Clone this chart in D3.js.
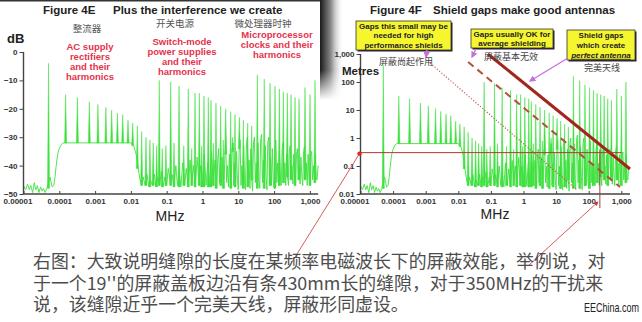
<!DOCTYPE html>
<meta charset="utf-8">
<script src="https://d3js.org/d3.v7.min.js"></script>
<style>
  body { margin: 0; background: #fff; }
  text { font-family: "Liberation Sans", Arial, sans-serif; }
  .cn { font-family: "Noto Sans CJK SC", sans-serif; }
</style>
<div id="chart"></div>
<script>

// axis ticks
var freqTicks = [0.00001, 0.0001, 0.001, 0.01, 0.1, 1, 10, 100, 1000];
var freqLabels = ["0.00001", "0.0001", "0.001", "0.01", "0.1", "1", "10", "100", "1,000"];
var dbTicks = [0, -10, -20, -30, -40, -50];
var metreTicks = [1000, 100, 10, 1, 0.1, 0.01];
var metreLabels = ["1,000", "100", "10", "1", "0.1", "0.01"];

// measured spectrum [MHz, dB]
var trace = [
  [1e-5,-47],[1.15e-5,-48.5],[1.3e-5,-46.5],[1.45e-5,-48.5],[1.6e-5,-47],[1.8e-5,-49.5],
  [2e-5,-46],[2.2e-5,-48.5],[2.45e-5,-47],[2.7e-5,-49.5],[3e-5,-47.5],[3.3e-5,-49],
  [3.6e-5,-48],[4e-5,-49.5],[4.5e-5,-48],[5.5e-5,-44],[6.3e-5,-47.5],[7e-5,-47],
  [7.6e-5,-44],[8.2e-5,-40],[9e-5,-36],[1e-4,-34],[1.15e-4,-32.5],[1.3e-4,-32],
  [0.01,-32],[0.012,-33],[0.014,-36],[0.016,-41],[0.018,-45],[0.020,-47],
  [0.022,-44],[0.025,-47],[0.028,-43],[0.032,-47.5],[0.035,-45],[0.040,-47],
  [0.045,-43],[0.050,-47.5],[0.056,-44],[0.063,-47],[0.071,-42],[0.079,-47.5],
  [0.089,-44],[0.10,-47],[0.11,-41],[0.13,-47],[0.14,-43],[0.16,-47.5],
  [0.18,-40],[0.20,-47],[0.22,-42],[0.25,-47.5],[0.28,-39],[0.32,-47],
  [0.35,-41],[0.40,-47.5],[0.45,-38],[0.50,-47],[0.56,-40],[0.63,-47.5],
  [0.71,-37],[0.79,-47],[0.89,-40],[1.0,-47.5],[1.12,-36],[1.26,-47],
  [1.41,-39],[1.58,-47.5],[1.78,-35],[2.0,-47],[2.24,-38],
  [2.51,-48],[2.66,-38],[2.82,-34],[2.99,-46],[3.16,-40],[3.35,-47],
  [3.55,-37],[3.76,-45],[3.98,-48],[4.22,-36],[4.47,-33],[4.73,-46],
  [5.01,-40],[5.31,-47.5],[5.62,-36],[5.96,-44],[6.31,-48],[6.68,-35],
  [7.08,-32],[7.50,-47],[7.94,-39],[8.41,-47.5],[8.91,-35],[9.44,-45],
  [10,-48.5],[10.6,-34],[11.2,-31],[11.9,-47],[12.6,-40],[13.3,-48],
  [14.1,-33],[15.0,-46],[15.8,-48.5],[16.8,-33],[17.8,-30],[18.8,-47.5],
  [20,-38],[21.1,-48],[22.4,-34],[23.7,-45],[25.1,-49],[26.6,-32],
  [28.2,-30],[29.9,-46],[31.6,-39],[33.5,-48],[35.5,-32],[37.6,-45],
  [39.8,-48],[42.2,-31],[44.7,-29],[47.3,-46],[50.1,-38],[53.1,-48],
  [56.2,-33],[59.6,-44],[63.1,-48.5],[66.8,-32],[70.8,-30],[75.0,-47],
  [79.4,-37],[84.1,-47],[89.1,-34],[94.4,-45],[100,-48],[106,-33],
  [112,-31],[119,-46],[126,-39],[133,-47],[141,-35],[150,-44],
  [158,-47],[168,-34],[178,-32],[188,-46],[200,-39],[211,-47],
  [224,-36],[237,-44],[251,-47],[266,-35],[282,-33],[299,-45],
  [316,-40],[335,-46.5],[355,-36],[376,-44],[398,-47],[422,-36],
  [447,-34],[473,-45],[501,-40],[531,-46.5],[562,-37],[596,-44],
  [631,-47],[668,-35],[708,-33],[750,-45],[794,-39],[841,-47],
  [891,-36],[944,-44],[1000,-47],[1059,-36],[1122,-35],[1189,-45],
  [1259,-40],[1334,-46],[1413,-36],[1496,-44],[1585,-45],[1700,-40]
];

// harmonic spikes: rectifier, switch-mode and clock harmonics
var spikeMHz = [
  0.00005, 0.00015, 0.00032, 0.00069, 0.0012, 0.002, 0.0029, 0.0042, 0.0059, 0.0083,
  0.0112, 0.0151, 0.02, 0.0264, 0.034, 0.042, 0.0525, 0.075, 0.095, 0.16, 0.3, 0.5,
  0.95, 2.0, 3.8, 7.0,
  0.062, 0.129, 0.221, 0.40, 0.618, 0.815, 1.10, 1.45, 1.73, 2.38, 3.22, 4.44, 6.13,
  8.09, 10.7, 13.8, 18.3, 23.7,
  34, 53, 77, 106, 140, 181, 234, 297, 384, 497, 730, 1007, 1390
];
var spikeDb = [
  -4, -15, -16, -17.5, -18.5, -19.5, -20.5, -21.5, -22, -24,
  -25, -26, -28, -30, -31, -32, -33, -34, -33, -32, -33, -34,
  -33, -32, -31, -30,
  -10, -10.5, -12, -13, -14.5, -14.5, -15.5, -16, -17, -18, -19, -20, -21,
  -22, -23, -24, -25, -26,
  -8, -9.5, -11, -12, -13, -14, -14.5, -15, -16, -16.5, -12.5, -15, -10
];

// wavelength lines on the right chart, [MHz, metres] end points
var halfWaveLine = [[0.081, 1000], [1850, 0.078]];
var averageLine = [[0.020, 518], [912, 0.0178]];
var smallGapLine = [[0.00136, 477], [43.8, 0.0139]];
var gapMetres = 0.3;
var markerMHz = 220;

var captionLines = [
  "右图：大致说明缝隙的长度在某频率电磁波长下的屏蔽效能，举例说，对",
  "于一个19''的屏蔽盖板边沿有条430mm长的缝隙，对于350MHz的干扰来",
  "说，该缝隙近乎一个完美天线，屏蔽形同虚设。"
];

var green = "#3fe03f";

var svg = d3.select("#chart").append("svg")
    .attr("width", 642).attr("height", 322);

// defs
var defs = svg.append("defs");
var grad = defs.append("linearGradient").attr("id", "edge");
grad.append("stop").attr("offset", "0%").attr("stop-color", "#1a1a1a");
grad.append("stop").attr("offset", "45%").attr("stop-color", "#888");
grad.append("stop").attr("offset", "100%").attr("stop-color", "#fff").attr("stop-opacity", 0);
var gradV = defs.append("linearGradient").attr("id", "fadeV").attr("x1", 0).attr("x2", 0).attr("y1", 0).attr("y2", 1);
gradV.append("stop").attr("offset", "70%").attr("stop-color", "#fff").attr("stop-opacity", 0);
gradV.append("stop").attr("offset", "100%").attr("stop-color", "#fff").attr("stop-opacity", 1);
function marker(id, color) {
  defs.append("marker").attr("id", id).attr("viewBox", "0 0 10 10")
      .attr("refX", 8).attr("refY", 5).attr("markerWidth", 5).attr("markerHeight", 5)
      .attr("orient", "auto")
    .append("path").attr("d", "M0,0L10,5L0,10Z").attr("fill", color);
}
marker("arrPurple", "#c86fe0");
marker("arrRed", "#d03030");

// top rule and the dark edge of the right figure
svg.append("line").attr("x1", 0).attr("x2", 320).attr("y1", 0.8).attr("y2", 0.8)
    .attr("stroke", "#333").attr("stroke-width", 1.6);
svg.append("rect").attr("x", 320).attr("y", 0).attr("width", 24).attr("height", 100)
    .attr("fill", "url(#edge)");
svg.append("rect").attr("x", 320).attr("y", 0).attr("width", 24).attr("height", 100)
    .attr("fill", "url(#fadeV)");

// scales
var xL = d3.scaleLog().domain([1e-5, 1000]).range([23.5, 309.9]);
var yL = d3.scaleLinear().domain([0, -50]).range([52, 194]);
var xR = d3.scaleLog().domain([1e-5, 1000]).range([360.5, 621.3]);
var yR = d3.scaleLog().domain([1000, 0.01]).range([54, 194]);
var dbR = d3.scaleLinear().domain([0, -50]).range([54, 194]);

var bis = d3.bisector(function(d) { return d[0]; }).left;

function drawSpectrum(g, x, y) {
  var line = d3.line().x(function(d) { return x(d[0]); }).y(function(d) { return y(d[1]); });
  g.append("path").datum(trace).attr("d", line)
      .attr("fill", "none").attr("stroke", green).attr("stroke-width", 0.9);
  g.selectAll("path.spike").data(spikeMHz).enter().append("path")
      .attr("class", "spike")
      .attr("d", function(f, i) {
        var j = bis(trace, f);
        var base = Math.min(trace[Math.max(j - 1, 0)][1], trace[Math.min(j, trace.length - 1)][1]);
        var px = x(f);
        return "M" + (px - 1) + "," + y(base) + "L" + px + "," + y(spikeDb[i]) + "L" + (px + 1) + "," + y(base) + "Z";
      })
      .attr("fill", green).attr("stroke", green).attr("stroke-width", 0.5);
}

function drawAxes(g, x, y, yTicks, yFormat, y0, yTop, xEnd) {
  var xa = g.append("g").attr("transform", "translate(0," + y0 + ")")
      .call(d3.axisBottom(x).tickValues(freqTicks)
        .tickFormat(function(d, i) { return freqLabels[i]; })
        .tickSize(-3).tickPadding(4));
  xa.select(".domain").remove();
  xa.selectAll(".tick text").attr("font-size", 8).attr("font-weight", "bold").attr("fill", "#333")
      .attr("dx", function(d, i) { return i === 0 ? -6 : 0; });
  xa.selectAll(".tick line").attr("stroke", "#444");
  var ya = g.append("g").attr("transform", "translate(" + x.range()[0] + ",0)")
      .call(d3.axisLeft(y).tickValues(yTicks).tickFormat(yFormat).tickSize(4).tickPadding(2));
  ya.select(".domain").remove();
  ya.selectAll(".tick text").attr("font-size", 8).attr("font-weight", "bold").attr("fill", "#333");
  ya.selectAll(".tick line").attr("stroke", "#444");
  g.append("path")
      .attr("d", "M" + x.range()[0] + "," + yTop + "V" + y0 + "H" + x(xEnd))
      .attr("fill", "none").attr("stroke", "#444").attr("stroke-width", 1.4);
}

// ---------- left figure ----------
var gL = svg.append("g");
drawSpectrum(gL, xL, yL);
drawAxes(gL, xL, yL, dbTicks, d3.format("d"), 194, 52, 1700);

gL.append("text").attr("x", 43).attr("y", 14).attr("font-size", 11.5).attr("font-weight", "bold")
    .attr("fill", "#222").text("Figure 4E");
gL.append("text").attr("x", 113).attr("y", 14).attr("font-size", 11.5).attr("font-weight", "bold")
    .attr("fill", "#222").text("Plus the interference we create");
gL.append("text").attr("x", 7).attr("y", 43).attr("font-size", 13).attr("font-weight", "bold")
    .attr("fill", "#222").text("dB");
gL.append("text").attr("x", 170).attr("y", 221).attr("font-size", 14).attr("text-anchor", "middle")
    .attr("fill", "#222").text("MHz");

var cnLeft = [["整流器", 87, 32], ["开关电源", 175, 27], ["微处理器时钟", 263, 27]];
gL.selectAll("text.cnl").data(cnLeft).enter().append("text").attr("class", "cn")
    .attr("x", function(d) { return d[1]; }).attr("y", function(d) { return d[2]; })
    .attr("text-anchor", "middle").attr("font-size", 9.5).attr("fill", "#555")
    .text(function(d) { return d[0]; });

var redNotes = [
  [["AC supply", "rectifiers", "and their", "harmonics"], 90, 50],
  [["Switch-mode", "power supplies", "and their", "harmonics"], 182, 45],
  [["Microprocessor", "clocks and their", "harmonics"], 277, 38]
];
redNotes.forEach(function(n) {
  gL.selectAll(null).data(n[0]).enter().append("text")
      .attr("x", n[1]).attr("y", function(d, i) { return n[2] + i * 10; })
      .attr("text-anchor", "middle").attr("font-size", 9.5).attr("font-weight", "bold")
      .attr("fill", "#e5334b").text(function(d) { return d; });
});

// ---------- right figure ----------
var gR = svg.append("g");
drawSpectrum(gR, xR, dbR);
drawAxes(gR, xR, yR, metreTicks, function(d, i) { return metreLabels[i]; }, 194, 54, 1850);

gR.append("text").attr("x", 370).attr("y", 14).attr("font-size", 11.5).attr("font-weight", "bold")
    .attr("fill", "#222").text("Figure 4F");
gR.append("text").attr("x", 433).attr("y", 14).attr("font-size", 11.5).attr("font-weight", "bold")
    .attr("fill", "#222").text("Shield gaps make good antennas");
gR.append("text").attr("x", 342).attr("y", 75).attr("font-size", 11.5).attr("font-weight", "bold")
    .attr("fill", "#222").text("Metres");
gR.append("text").attr("x", 495).attr("y", 219).attr("font-size", 14).attr("text-anchor", "middle")
    .attr("fill", "#222").text("MHz");

// wavelength lines
var lineR = d3.line().x(function(d) { return xR(d[0]); }).y(function(d) { return yR(d[1]); });
gR.append("path").datum(smallGapLine).attr("d", lineR).attr("fill", "none")
    .attr("stroke", "#c0504a").attr("stroke-width", 1.1).attr("stroke-dasharray", "1.2,1.8");
gR.append("path").datum(averageLine).attr("d", lineR).attr("fill", "none")
    .attr("stroke", "#b2503a").attr("stroke-width", 2).attr("stroke-dasharray", "7,5");
gR.append("path").datum(halfWaveLine).attr("d", lineR).attr("fill", "none")
    .attr("stroke", "#a3261c").attr("stroke-width", 3);

// gap length marker and frequency marker
gR.append("line").attr("x1", xR(1e-5)).attr("x2", xR(1000)).attr("y1", yR(gapMetres)).attr("y2", yR(gapMetres))
    .attr("stroke", "#b03a2a").attr("stroke-width", 1);
gR.append("line").attr("x1", xR(markerMHz)).attr("x2", xR(markerMHz)).attr("y1", yR(gapMetres) - 3).attr("y2", 208)
    .attr("stroke", "#a04040").attr("stroke-width", 1);
gR.append("circle").attr("cx", xR(1e-5) - 1).attr("cy", yR(gapMetres) + 1).attr("r", 2.2).attr("fill", "#e02020");

// callout lines from the caption
svg.append("line").attr("x1", 292).attr("y1", 262).attr("x2", xR(1e-5) - 1).attr("y2", yR(gapMetres) + 1)
    .attr("stroke", "#d04848").attr("stroke-width", 0.9);
svg.append("line").attr("x1", 528).attr("y1", 266).attr("x2", xR(markerMHz) - 2).attr("y2", 202)
    .attr("stroke", "#d04848").attr("stroke-width", 0.9).attr("marker-end", "url(#arrRed)");

// yellow note boxes
var boxes = [
  [["Gaps this small may be", "needed for high", "performance shields"], 356, 21, 95, 29],
  [["Gaps usually OK for", "average shielding"], 471, 29, 82, 19],
  [["Shield gaps", "which create", "perfect antenna"], 567, 30, 68, 30]
];
boxes.forEach(function(b, k) {
  gR.append("rect").attr("x", b[1] + 1.5).attr("y", b[2] + 1.5).attr("width", b[3]).attr("height", b[4])
      .attr("fill", "#2a1c3a");
  gR.append("rect").attr("x", b[1]).attr("y", b[2]).attr("width", b[3]).attr("height", b[4])
      .attr("fill", "#f6f62e").attr("stroke", "#333").attr("stroke-width", 0.8);
  var lh = b[4] / b[0].length;
  gR.selectAll(null).data(b[0]).enter().append("text")
      .attr("x", b[1] + b[3] / 2).attr("y", function(d, i) { return b[2] + lh * i + lh / 2 + 2.8; })
      .attr("text-anchor", "middle").attr("font-size", 8).attr("font-weight", "bold").attr("fill", "#222")
      .attr("font-style", function(d, i) { return k === 2 && i === 2 ? "italic" : null; })
      .attr("text-decoration", function(d, i) { return k === 2 && i === 2 ? "underline" : null; })
      .text(function(d) { return d; });
});

// purple pointers
var pointers = [[427, 50, 426, 57], [476, 49, 472, 57], [568, 58, 530, 81]];
gR.selectAll("line.ptr").data(pointers).enter().append("line").attr("class", "ptr")
    .attr("x1", function(d) { return d[0]; }).attr("y1", function(d) { return d[1]; })
    .attr("x2", function(d) { return d[2]; }).attr("y2", function(d) { return d[3]; })
    .attr("stroke", "#c86fe0").attr("stroke-width", 1.3).attr("marker-end", "url(#arrPurple)");

var cnRight = [["屏蔽尚起作用", 406, 65], ["屏蔽基本无效", 511, 60], ["完美天线", 602, 71]];
gR.selectAll("text.cnr").data(cnRight).enter().append("text").attr("class", "cn")
    .attr("x", function(d) { return d[1]; }).attr("y", function(d) { return d[2]; })
    .attr("text-anchor", "middle").attr("font-size", 9).attr("fill", "#444")
    .text(function(d) { return d[0]; });

// caption
svg.selectAll("text.cap").data(captionLines).enter().append("text").attr("class", "cn")
    .attr("x", 33).attr("y", function(d, i) { return 268 + i * 21.5; })
    .attr("font-size", 17.9).attr("fill", "#4d4d4d")
    .text(function(d) { return d; });
svg.append("text").attr("transform", "translate(584,312) scale(0.72,1)")
    .attr("font-size", 12.5).attr("fill", "#222").text("EEChina.com");

</script>
